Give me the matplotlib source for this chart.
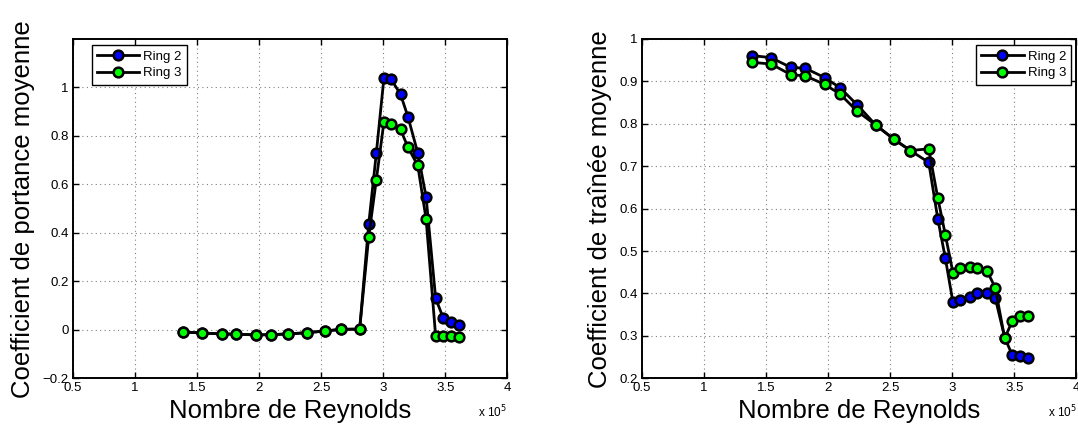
import matplotlib
matplotlib.use("Agg")
import matplotlib.pyplot as plt

plt.rcParams["font.family"] = ["Liberation Sans", "DejaVu Sans"]

# Reynolds number (x 10^5), shared by both rings
reynolds = [1.386, 1.541, 1.700, 1.817, 1.973, 2.097, 2.234, 2.385, 2.529, 2.663, 2.811,
            2.884, 2.945, 3.006, 3.065, 3.140, 3.200, 3.279, 3.346, 3.423, 3.483, 3.543, 3.612]

# mean lift coefficient
cl_ring2 = [-0.009, -0.013, -0.017, -0.018, -0.021, -0.020, -0.017, -0.012, -0.005, 0.002, 0.003,
            0.436, 0.728, 1.037, 1.033, 0.972, 0.879, 0.730, 0.549, 0.130, 0.050, 0.033, 0.020]
cl_ring3 = [-0.009, -0.013, -0.017, -0.018, -0.021, -0.020, -0.017, -0.012, -0.005, 0.002, 0.003,
            0.384, 0.618, 0.856, 0.849, 0.827, 0.753, 0.678, 0.457, -0.026, -0.026, -0.026, -0.028]

# mean drag coefficient
cd_ring2 = [0.961, 0.956, 0.933, 0.931, 0.909, 0.885, 0.845, 0.797, 0.764, 0.737, 0.709,
            0.576, 0.483, 0.379, 0.385, 0.392, 0.400, 0.400, 0.390, 0.296, 0.255, 0.252, 0.249]
cd_ring3 = [0.945, 0.941, 0.916, 0.913, 0.893, 0.870, 0.830, 0.797, 0.764, 0.737, 0.741,
            0.625, 0.538, 0.449, 0.459, 0.462, 0.459, 0.454, 0.414, 0.294, 0.335, 0.347, 0.347]

labels = ["Ring 2", "Ring 3"]
colors = ["#0000ff", "#00ff00"]
xticks = [0.5, 1, 1.5, 2, 2.5, 3, 3.5, 4]


def draw(ax, series, ylabel, ylim, yticks, legend_loc, anchor):
    for vals, lab, col in zip(series, labels, colors):
        ax.plot(reynolds, vals, "-o", color="black", lw=2, ms=7, mfc=col,
                mec="black", mew=1.8, label=lab)
    ax.set_xlim(0.5, 4)
    ax.set_ylim(*ylim)
    ax.set_xticks(xticks)
    ax.set_xticklabels([f"{t:g}" for t in xticks])
    ax.set_yticks(yticks)
    ax.set_yticklabels([f"{t:g}".replace("-", "\u2212") for t in yticks])
    ax.grid(True, linestyle=(0, (1, 3)), color="0.5", lw=0.8)
    ax.set_axisbelow(True)
    ax.tick_params(direction="in", top=True, right=True, length=4, width=1,
                   labelsize=9.5, pad=3)
    for s in ax.spines.values():
        s.set_linewidth(1.4)
    ax.set_xlabel("Nombre de Reynolds", fontsize=18.5, labelpad=3)
    ax.set_ylabel(ylabel, fontsize=18.5, labelpad=5)
    ax.text(1.0, -0.1, r"x 10$^5$", transform=ax.transAxes, ha="right", va="center",
            fontsize=8.5)
    leg = ax.legend(loc=legend_loc, bbox_to_anchor=anchor, borderaxespad=0,
                    fontsize=9.5, handlelength=3.2, fancybox=False, framealpha=1,
                    edgecolor="black", borderpad=0.4, labelspacing=0.35,
                    handletextpad=0.3)
    leg.get_frame().set_linewidth(1)


fig = plt.figure(figsize=(10.78, 4.26), dpi=100)
ax1 = fig.add_axes([0.0674, 0.112, 0.4032, 0.7965])
ax2 = fig.add_axes([0.5953, 0.112, 0.4032, 0.7965])

draw(ax1, [cl_ring2, cl_ring3], "Coefficient de portance moyenne", (-0.2, 1.2),
     [-0.2, 0, 0.2, 0.4, 0.6, 0.8, 1.0], "upper left", (0.044, 0.982))
draw(ax2, [cd_ring2, cd_ring3], "Coefficient de traînée moyenne", (0.2, 1.0),
     [0.2, 0.3, 0.4, 0.5, 0.6, 0.7, 0.8, 0.9, 1.0], "upper right", (0.988, 0.982))

fig.savefig("out.png", dpi=100)
